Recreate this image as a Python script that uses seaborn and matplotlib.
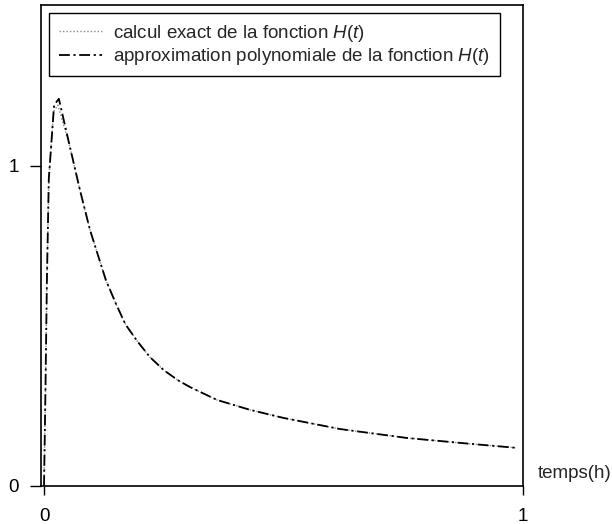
import numpy as np
import pandas as pd
import matplotlib
matplotlib.use("Agg")
import matplotlib.pyplot as plt
import seaborn as sns

# ---- data ----
t_exact = [0.0, 0.003, 0.006, 0.010, 0.020, 0.029, 0.054, 0.075, 0.096, 0.129, 0.150, 0.170,
           0.195, 0.221, 0.250, 0.280, 0.305, 0.361, 0.430, 0.499, 0.618, 0.758, 0.896, 0.988]
h_exact = [0.0, 0.30, 0.64, 0.96, 1.17, 1.19, 1.06, 0.925, 0.80, 0.644, 0.570, 0.505,
           0.452, 0.403, 0.362, 0.330, 0.309, 0.269, 0.238, 0.213, 0.178, 0.150, 0.131, 0.119]
t_approx = [0.0, 0.003, 0.006, 0.010, 0.021, 0.031, 0.054, 0.075, 0.096, 0.129, 0.150, 0.170,
            0.195, 0.221, 0.250, 0.280, 0.305, 0.361, 0.430, 0.499, 0.618, 0.758, 0.896, 0.988]
h_approx = [0.0, 0.30, 0.64, 0.96, 1.19, 1.21, 1.06, 0.925, 0.80, 0.644, 0.570, 0.505,
            0.452, 0.403, 0.362, 0.330, 0.309, 0.269, 0.238, 0.213, 0.178, 0.150, 0.131, 0.119]
labels = ["calcul exact de la fonction $\\mathit{H(t)}$",
          "approximation polynomiale de la fonction $\\mathit{H(t)}$"]
xticks = [0, 1]
yticks = [0, 1]
xlabel_text = "temps(h)"

df = pd.concat([
    pd.DataFrame({"t": t_exact, "H": h_exact, "serie": "exact"}),
    pd.DataFrame({"t": t_approx, "H": h_approx, "serie": "approx"}),
], ignore_index=True)

sns.set_style("white")
plt.rcParams["font.family"] = ["Liberation Sans", "DejaVu Sans"]
plt.rcParams["mathtext.fontset"] = "custom"
plt.rcParams["mathtext.it"] = "Liberation Sans:italic"
plt.rcParams["mathtext.rm"] = "Liberation Sans"

fig = plt.figure(figsize=(6.12, 5.24), dpi=100)
ax = fig.add_axes([41 / 612, 38 / 524, 482 / 612, 481 / 524])

sns.lineplot(data=df, x="t", y="H", hue="serie", style="serie",
             palette={"exact": "#8a8a8a", "approx": "black"},
             dashes={"exact": (1, 1.5), "approx": (6, 2, 1.2, 2)},
             hue_order=["exact", "approx"], style_order=["exact", "approx"],
             sort=False, estimator=None, legend=False, ax=ax)
lines = ax.get_lines()
lines[0].set_linewidth(1.0)
lines[1].set_linewidth(1.3)

ax.set_xlim(-0.0063, 1.0)
ax.set_ylim(0.0, 1.503)
ax.set_xticks(xticks)
ax.set_xticklabels([str(v) for v in xticks])
ax.set_yticks(yticks)
ax.set_yticklabels([str(v) for v in yticks])
ax.set_xlabel("")
ax.set_ylabel("")
ax.tick_params(axis="x", direction="out", length=6.5, width=1.0, pad=9,
               labelsize=13.5, colors="black", bottom=True)
ax.tick_params(axis="y", direction="out", length=8, width=1.0, pad=8,
               labelsize=13.5, colors="black", left=True)
for s in ax.spines.values():
    s.set_color("black")
    s.set_linewidth(1.2)

ax.text(1.031, 0.04, xlabel_text, transform=ax.get_yaxis_transform(),
        ha="left", va="center", fontsize=13.5)

leg = ax.legend(lines, labels, loc="upper left", bbox_to_anchor=(0, 1),
                fontsize=13.5, frameon=True, fancybox=False, shadow=False,
                borderaxespad=0.45, handlelength=2.3, handletextpad=0.6,
                labelspacing=0.12, borderpad=0.5)
leg.get_frame().set_edgecolor("black")
leg.get_frame().set_linewidth(1.0)
leg.get_frame().set_alpha(1)

fig.savefig("out.png", dpi=100)
